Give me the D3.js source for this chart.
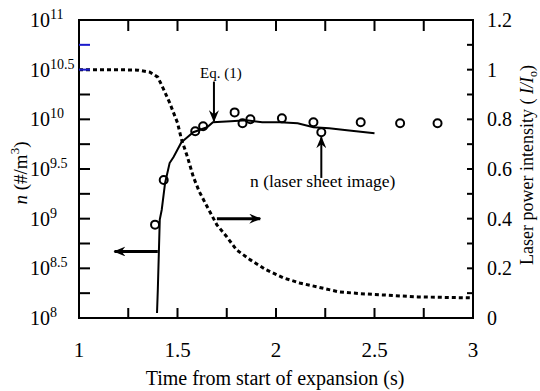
<!DOCTYPE html>
<html>
<head>
<meta charset="utf-8">
<script src="https://cdn.jsdelivr.net/npm/d3@7"></script>
<style>
body { margin: 0; background: #fff; }
text { font-family: "Liberation Serif", "Times New Roman", serif; fill: #000; }
</style>
</head>
<body>
<script>
var w = 540, h = 391;
var margin = {left: 79, right: 67, top: 20, bottom: 73};

// axis ticks
var timeTicks = [1, 1.5, 2, 2.5, 3];
var timeMinor = [1.25, 1.5, 1.75, 2, 2.25, 2.5, 2.75];
var nLabelExps = ["8", "8.5", "9", "9.5", "10", "10.5", "11"];
var nTickExps = [8.25, 8.5, 8.75, 9, 9.25, 9.5, 9.75, 10, 10.25];
var nBlueExps = [10.5, 10.75];
var intensityLabels = [0, 0.2, 0.4, 0.6, 0.8, 1, 1.2];
var intensityTicks = [0.1, 0.2, 0.3, 0.4, 0.5, 0.6, 0.7, 0.8, 0.9, 1, 1.1];

// laser power intensity (dashed, right axis)
var laserT = [1.0, 1.1, 1.2, 1.3, 1.36, 1.40, 1.43, 1.46, 1.50, 1.52, 1.55, 1.58, 1.61, 1.64, 1.70, 1.75, 1.80, 1.87, 1.95, 2.04, 2.12, 2.21, 2.32, 2.43, 2.54, 2.72, 2.86, 3.0];
var laserI = [1.0, 1.0, 1.0, 0.998, 0.99, 0.97, 0.92, 0.867, 0.786, 0.72, 0.65, 0.569, 0.51, 0.464, 0.375, 0.327, 0.274, 0.234, 0.194, 0.161, 0.141, 0.125, 0.105, 0.098, 0.093, 0.085, 0.083, 0.081];

// Eq. (1) (solid, left axis, log10 n)
var eqT = [1.396, 1.40, 1.41, 1.42, 1.437, 1.46, 1.48, 1.52, 1.55, 1.58, 1.65, 1.68, 1.77, 1.85, 1.93, 2.02, 2.11, 2.19, 2.27, 2.36, 2.50];
var eqLogN = [8.05, 8.28, 8.99, 9.09, 9.36, 9.56, 9.62, 9.77, 9.82, 9.87, 9.92, 9.97, 9.98, 9.99, 9.97, 9.97, 9.96, 9.92, 9.91, 9.89, 9.86];

// n from laser sheet image (circles, left axis, log10 n)
var imgT = [1.386, 1.43, 1.59, 1.63, 1.79, 1.83, 1.87, 2.03, 2.19, 2.23, 2.43, 2.63, 2.82];
var imgLogN = [8.94, 9.39, 9.88, 9.93, 10.07, 9.96, 10.0, 10.01, 9.97, 9.87, 9.97, 9.96, 9.96];

var svg = d3.select("body").append("svg")
	.attr("width", w)
	.attr("height", h);

var x = d3.scaleLinear().domain([1, 3]).range([margin.left, w - margin.right]);
var yN = d3.scaleLog().domain([1e8, 1e11]).range([h - margin.bottom, margin.top]);
var yI = d3.scaleLinear().domain([0, 1.2]).range([h - margin.bottom, margin.top]);
function yL(e) { return yN(Math.pow(10, e)); }

var defs = svg.append("defs");
defs.append("marker")
	.attr("id", "head")
	.attr("viewBox", "0 0 12 10")
	.attr("refX", 11).attr("refY", 5)
	.attr("markerWidth", 12).attr("markerHeight", 10)
	.attr("markerUnits", "userSpaceOnUse")
	.attr("orient", "auto")
	.append("path")
	.attr("d", "M0,0 L12,5 L0,10 L4,5 Z")
	.attr("fill", "#000");

// frame
svg.append("rect")
	.attr("x", x(1)).attr("y", yI(1.2))
	.attr("width", x(3) - x(1)).attr("height", yI(0) - yI(1.2))
	.attr("fill", "none").attr("stroke", "#000").attr("stroke-width", 2);

// tick labels
svg.append("g").selectAll("text")
	.data(timeTicks).enter().append("text")
	.attr("x", function(d) { return x(d); })
	.attr("y", 357)
	.attr("text-anchor", "middle")
	.style("font-size", "21px")
	.text(function(d) { return d; });

var nl = svg.append("g").selectAll("text")
	.data(nLabelExps).enter().append("text")
	.attr("x", 30)
	.attr("y", function(d) { return yL(+d) + 7; })
	.style("font-size", "20px");
nl.append("tspan").text("10");
nl.append("tspan").attr("dy", -8).style("font-size", "14px").text(function(d) { return d; });

svg.append("g").selectAll("text")
	.data(intensityLabels).enter().append("text")
	.attr("x", 487)
	.attr("y", function(d) { return yI(d) + 7; })
	.style("font-size", "20px")
	.text(function(d) { return d; });

// axis titles
svg.append("text")
	.attr("x", 275).attr("y", 385)
	.attr("text-anchor", "middle")
	.style("font-size", "20px")
	.text("Time from start of expansion (s)");

var lt = svg.append("text")
	.attr("transform", "translate(27,173) rotate(-90)")
	.attr("text-anchor", "middle")
	.style("font-size", "19px");
lt.append("tspan").style("font-style", "italic").text("n");
lt.append("tspan").text(" (#/m");
lt.append("tspan").attr("dy", -8).style("font-size", "13px").text("3");
lt.append("tspan").attr("dy", 8).text(")");

var rt = svg.append("text")
	.attr("transform", "translate(533,165) rotate(-90)")
	.attr("text-anchor", "middle")
	.style("font-size", "18px");
rt.append("tspan").text("Laser power intensity ( ");
rt.append("tspan").style("font-style", "italic").text("I/I");
rt.append("tspan").attr("dy", 4).style("font-size", "12px").text("o");
rt.append("tspan").attr("dy", -4).text(")");

// laser intensity, dashed
var laserLine = d3.line()
	.x(function(d, i) { return x(laserT[i]); })
	.y(function(d) { return yI(d); });
svg.append("path")
	.attr("d", laserLine(laserI))
	.attr("fill", "none").attr("stroke", "#000")
	.attr("stroke-width", 3)
	.attr("stroke-dasharray", "4,3");

// Eq. (1), solid
var eqLine = d3.line()
	.x(function(d, i) { return x(eqT[i]); })
	.y(function(d) { return yL(d); });
svg.append("path")
	.attr("d", eqLine(eqLogN))
	.attr("fill", "none").attr("stroke", "#000")
	.attr("stroke-width", 2);

// laser sheet image points
svg.append("g").selectAll("circle")
	.data(imgLogN).enter().append("circle")
	.attr("cx", function(d, i) { return x(imgT[i]); })
	.attr("cy", function(d) { return yL(d); })
	.attr("r", 4)
	.attr("fill", "none").attr("stroke", "#000").attr("stroke-width", 2);

// annotations
function arrow(x1, y1, x2, y2, sw) {
	svg.append("line")
		.attr("x1", x1).attr("y1", y1).attr("x2", x2).attr("y2", y2)
		.attr("marker-end", "url(#head)")
		.attr("stroke", "#000").attr("stroke-width", sw);
}
arrow(x(1.40), yL(8.67), x(1.18), yL(8.67), 3);
arrow(x(1.70), yI(0.40), x(1.92), yI(0.40), 3);
arrow(x(1.685), yL(10.38), x(1.685), yL(9.98), 2);
arrow(x(2.23), yL(9.41), x(2.23), yL(9.82), 2);

svg.append("text")
	.attr("x", 200).attr("y", 78)
	.style("font-size", "15px")
	.text("Eq. (1)");
svg.append("text")
	.attr("x", 250).attr("y", 187)
	.style("font-size", "17.5px")
	.text("n (laser sheet image)");

// inward ticks as small filled rects, on top
var tickG = svg.append("g");
tickG.selectAll(".tb").data(timeMinor).enter().append("rect")
	.attr("x", function(d) { return x(d) - 1; })
	.attr("y", yI(0) - 10)
	.attr("width", 2).attr("height", 10)
	.attr("fill", "#000");
tickG.selectAll(".tt").data(timeMinor).enter().append("rect")
	.attr("x", function(d) { return x(d) - 1; })
	.attr("y", yI(1.2))
	.attr("width", 2).attr("height", 11)
	.attr("fill", "#000");
tickG.selectAll(".tl").data(nTickExps).enter().append("rect")
	.attr("x", x(1))
	.attr("y", function(d) { return yL(d) - 1; })
	.attr("width", 11).attr("height", 2)
	.attr("fill", "#000");
tickG.selectAll(".tlb").data(nBlueExps).enter().append("rect")
	.attr("x", x(1))
	.attr("y", function(d) { return yL(d) - 1; })
	.attr("width", 11).attr("height", 2)
	.attr("fill", "#1a1acc");
tickG.selectAll(".tr").data(intensityTicks).enter().append("rect")
	.attr("x", x(3) - 6)
	.attr("y", function(d) { return yI(d) - 1; })
	.attr("width", 6).attr("height", 2)
	.attr("fill", "#000");
</script>
</body>
</html>
